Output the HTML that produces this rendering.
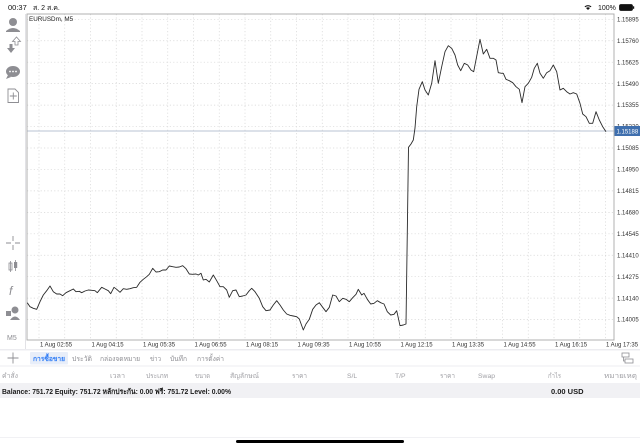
<!DOCTYPE html>
<html><head><meta charset="utf-8"><style>
html,body{margin:0;padding:0;background:#fff;width:640px;height:447px;overflow:hidden}
svg{display:block}
text{font-family:"Liberation Sans","DejaVu Sans",sans-serif}
</style></head><body>
<svg width="640" height="447" viewBox="0 0 640 447" xmlns="http://www.w3.org/2000/svg">
<rect width="640" height="447" fill="#fff"/>
<!-- status bar -->
<text x="8" y="10" font-size="7.5" fill="#111">00:37</text>
<text x="33" y="10" font-size="7" fill="#111">ส. 2 ส.ค.</text>
<g fill="#111">
<path d="M584.5,6.5 a5,5 0 0 1 7,0 l-0.8,0.8 a4,4 0 0 0 -5.4,0z M586,8 a3,3 0 0 1 4,0 l-2,2z"/>
</g>
<text x="598" y="10" font-size="7" fill="#111">100%</text>
<rect x="619.5" y="4.5" width="13" height="6" rx="1.5" fill="#111" stroke="#111" stroke-width="0.8"/>
<rect x="633" y="6.3" width="1.2" height="2.5" fill="#111"/>

<!-- left toolbar -->
<line x1="25.5" y1="14" x2="25.5" y2="349" stroke="#e2e2e6" stroke-width="1"/>
<g fill="#8e8e93" stroke="none">
<circle cx="13" cy="22" r="4"/>
<path d="M6,31 q7,-6 14,0 v1 h-14z"/>
<path d="M9.5,44 h3 v4 h2.5 l-4,5 l-4,-5 h2.5z"/>
<ellipse cx="13" cy="71.5" rx="7" ry="5.5"/>
<path d="M8,75 l-2,4 l5,-2z"/>
<circle cx="10" cy="71.5" r="0.9" fill="#fff"/><circle cx="13" cy="71.5" r="0.9" fill="#fff"/><circle cx="16" cy="71.5" r="0.9" fill="#fff"/>
</g>
<path d="M15,45 v-3.5 h-2.5 l4,-4.5 l4,4.5 h-2.5 v3.5z" fill="none" stroke="#8e8e93" stroke-width="0.8"/>
<path d="M8,89 h7 l3.5,3.5 v10 h-10.5z" fill="none" stroke="#8e8e93" stroke-width="0.9"/>
<path d="M13.3,92.5 v7 M9.8,96 h7" stroke="#8e8e93" stroke-width="0.9"/>
<path d="M13,236 v5 M13,245 v5 M6,243 h5 M15,243 h5" stroke="#8e8e93" stroke-width="0.9"/>
<g fill="#8e8e93">
<rect x="9" y="263" width="3" height="7" fill="none" stroke="#8e8e93" stroke-width="0.8"/>
<line x1="10.5" y1="261" x2="10.5" y2="272" stroke="#8e8e93" stroke-width="0.8"/>
<rect x="14" y="262" width="3.2" height="6"/>
<line x1="15.6" y1="260" x2="15.6" y2="271" stroke="#8e8e93" stroke-width="0.8"/>
</g>
<text x="9" y="295" font-size="12" font-style="italic" fill="#8e8e93" font-family="Liberation Serif,serif">f</text>
<g fill="#8e8e93">
<rect x="6" y="311" width="5" height="5"/>
<circle cx="15" cy="310" r="3.5"/>
<path d="M10,320 q5,-7 10,0z"/>
</g>
<text x="7" y="340" font-size="7" fill="#8e8e93">M5</text>

<!-- chart grid -->
<g stroke="#d6d6d6" stroke-width="0.7" stroke-dasharray="1.2,2.2">
<line x1="27" y1="19.3" x2="614" y2="19.3"/>
<line x1="27" y1="40.75" x2="614" y2="40.75"/>
<line x1="27" y1="62.2" x2="614" y2="62.2"/>
<line x1="27" y1="83.65" x2="614" y2="83.65"/>
<line x1="27" y1="105.1" x2="614" y2="105.1"/>
<line x1="27" y1="126.55" x2="614" y2="126.55"/>
<line x1="27" y1="148" x2="614" y2="148"/>
<line x1="27" y1="169.45" x2="614" y2="169.45"/>
<line x1="27" y1="190.9" x2="614" y2="190.9"/>
<line x1="27" y1="212.35" x2="614" y2="212.35"/>
<line x1="27" y1="233.8" x2="614" y2="233.8"/>
<line x1="27" y1="255.25" x2="614" y2="255.25"/>
<line x1="27" y1="276.7" x2="614" y2="276.7"/>
<line x1="27" y1="298.15" x2="614" y2="298.15"/>
<line x1="27" y1="319.6" x2="614" y2="319.6"/>
<line x1="39" y1="14" x2="39" y2="340"/>
<line x1="64.75" y1="14" x2="64.75" y2="340"/>
<line x1="90.5" y1="14" x2="90.5" y2="340"/>
<line x1="116.25" y1="14" x2="116.25" y2="340"/>
<line x1="142" y1="14" x2="142" y2="340"/>
<line x1="167.75" y1="14" x2="167.75" y2="340"/>
<line x1="193.5" y1="14" x2="193.5" y2="340"/>
<line x1="219.25" y1="14" x2="219.25" y2="340"/>
<line x1="245" y1="14" x2="245" y2="340"/>
<line x1="270.75" y1="14" x2="270.75" y2="340"/>
<line x1="296.5" y1="14" x2="296.5" y2="340"/>
<line x1="322.25" y1="14" x2="322.25" y2="340"/>
<line x1="348" y1="14" x2="348" y2="340"/>
<line x1="373.75" y1="14" x2="373.75" y2="340"/>
<line x1="399.5" y1="14" x2="399.5" y2="340"/>
<line x1="425.25" y1="14" x2="425.25" y2="340"/>
<line x1="451" y1="14" x2="451" y2="340"/>
<line x1="476.75" y1="14" x2="476.75" y2="340"/>
<line x1="502.5" y1="14" x2="502.5" y2="340"/>
<line x1="528.25" y1="14" x2="528.25" y2="340"/>
<line x1="554" y1="14" x2="554" y2="340"/>
<line x1="579.75" y1="14" x2="579.75" y2="340"/>
<line x1="605.5" y1="14" x2="605.5" y2="340"/>
</g>
<!-- current price line -->
<line x1="27" y1="131" x2="614" y2="131" stroke="#b9c3d3" stroke-width="1"/>
<!-- frame -->
<rect x="27" y="14" width="587" height="326" fill="none" stroke="#a8a8a8" stroke-width="0.9"/>
<text x="29" y="21" font-size="6.3" fill="#222">EURUSDm, M5</text>

<!-- price series -->
<polyline fill="none" stroke="#2a2a2a" stroke-width="0.9" stroke-linejoin="round" points="27.3,302.7 30,306.7 33.3,308.3 36.7,309.3 40,301.7 43.3,295 46.7,290.7 50,286 53.3,291.7 56.7,294 60,294 62.7,295.7 66,292.7 70,290.7 73.3,289 76,291.7 79.3,291.3 81.7,292.7 85,291 88.3,290 91.7,290.3 95,290.7 97.3,292.7 101.7,287.3 105,289 108.3,290.7 110.7,293.7 114,287.3 116.7,289.3 120,292.3 123.3,288.7 126.7,289.3 130,288.7 133.3,287.7 136.7,287.3 140,282.3 143.3,279.3 146.7,276.7 149.3,274.3 152.7,268.3 156,272 159.3,271.7 162.7,270 166,270 169.3,266 172.7,266.7 176,267.3 179.3,267 182.7,265.7 186,268.7 189.3,274 192.7,274.3 196,274 198.3,275 201,273.3 203.3,280 206,279.3 209.3,282 213.3,275 216.7,280.7 220,286.7 223.3,286.7 226.7,290 229.3,297.3 232.7,290.7 236,290 239.3,296.7 242.7,296 246,295 249.3,290.7 251.7,288.3 255,291.7 259.3,298.3 262.7,306.7 266,310.7 270,310 273.3,305 276.7,300.7 280,305 283.3,310 286.7,314 290,315.3 293.3,316 296.7,316.7 299.3,319 303.3,330 306,324 309.3,319.3 312.7,309.3 316,305 319.3,302.7 322.7,307.3 326,311.7 329.3,307.3 332.7,295 336,296 339.3,301.7 342.7,298.3 346,299.3 349.3,301.7 352.7,297.7 356,294.3 358.3,289.3 361.7,295 364,293.3 367.3,299.3 370.7,304 374,303.3 377.3,300.7 380.7,302.7 384,304 387.3,311.7 390.7,315 394,314.3 396.7,310.7 400,325.7 403.3,325 406,324 408.5,147.3 411,144 413.3,140 415,128 416.7,106.7 419,89.3 422.3,81.7 425,90 428.3,95 431.7,83.3 435,60.7 438.3,83.3 441.7,66.7 445,51.7 448.3,45.7 451.7,48.3 455,55 457.7,65 460.7,70.7 464.3,63.3 467.7,65 471,70 473.7,71.7 480,39.3 483.3,54 486.7,49.3 490,58.3 493.3,58.3 496,60 498.3,72.7 501.7,73.3 503.3,73.3 506,79.3 509.3,80.7 512.7,82.7 516,86.7 519.3,89.3 522,102.7 525,86.7 528.3,83.3 531.7,77.3 534.3,68.3 537.3,63.3 540,73.3 543.3,78.3 546.7,72.7 550,70.7 553.3,65 556.7,71.7 560,90 563.3,88.3 566.7,91.7 570,94 573.3,92.7 576.7,94 580,103.3 582.7,114 586,116.7 589.3,123.3 592.7,123.3 596,111.7 599.3,120 602.7,126.7 606,131.7"/>

<!-- y-axis labels -->
<g font-size="6" fill="#333">
<text x="617" y="21.4">1.15895</text>
<text x="617" y="42.85">1.15760</text>
<text x="617" y="64.3">1.15625</text>
<text x="617" y="85.75">1.15490</text>
<text x="617" y="107.2">1.15355</text>
<text x="617" y="128.65">1.15220</text>
<text x="617" y="150.1">1.15085</text>
<text x="617" y="171.55">1.14950</text>
<text x="617" y="193">1.14815</text>
<text x="617" y="214.45">1.14680</text>
<text x="617" y="235.9">1.14545</text>
<text x="617" y="257.35">1.14410</text>
<text x="617" y="278.8">1.14275</text>
<text x="617" y="300.25">1.14140</text>
<text x="617" y="321.7">1.14005</text>
</g>
<rect x="614.5" y="126" width="25.5" height="10" fill="#3f6fae"/>
<text x="616.5" y="133.3" font-size="6" fill="#fff">1.15188</text>

<!-- x-axis labels -->
<g font-size="6" fill="#333">
<text x="40" y="346.5">1 Aug 02:55</text>
<text x="91.5" y="346.5">1 Aug 04:15</text>
<text x="143" y="346.5">1 Aug 05:35</text>
<text x="194.5" y="346.5">1 Aug 06:55</text>
<text x="246" y="346.5">1 Aug 08:15</text>
<text x="297.5" y="346.5">1 Aug 09:35</text>
<text x="349" y="346.5">1 Aug 10:55</text>
<text x="400.5" y="346.5">1 Aug 12:15</text>
<text x="452" y="346.5">1 Aug 13:35</text>
<text x="503.5" y="346.5">1 Aug 14:55</text>
<text x="555" y="346.5">1 Aug 16:15</text>
<text x="606" y="346.5">1 Aug 17:35</text>
</g>

<!-- tab bar -->
<rect x="0" y="349" width="640" height="1.5" fill="#ececf0"/>
<rect x="0" y="365.5" width="640" height="1" fill="#ececf0"/>
<path d="M13,352.5 v11 M7.5,358 h11" stroke="#8e8e93" stroke-width="0.9"/>
<rect x="30" y="352" width="38" height="12.5" rx="1" fill="#e8eef9"/>
<g font-size="7">
<text x="33" y="361" fill="#2f7cf6" font-weight="bold" textLength="32" lengthAdjust="spacingAndGlyphs">การซื้อขาย</text>
<text x="72" y="361" fill="#8e8e93" textLength="20" lengthAdjust="spacingAndGlyphs">ประวัติ</text>
<text x="100" y="361" fill="#8e8e93" textLength="40" lengthAdjust="spacingAndGlyphs">กล่องจดหมาย</text>
<text x="150" y="361" fill="#8e8e93" textLength="11" lengthAdjust="spacingAndGlyphs">ข่าว</text>
<text x="170" y="361" fill="#8e8e93" textLength="17" lengthAdjust="spacingAndGlyphs">บันทึก</text>
<text x="197" y="361" fill="#8e8e93" textLength="27" lengthAdjust="spacingAndGlyphs">การตั้งค่า</text>
</g>
<g fill="none" stroke="#8e8e93" stroke-width="0.8">
<rect x="622" y="353" width="7" height="4"/>
<rect x="625" y="359" width="8" height="4"/>
<path d="M623.5,357 v4 h1.5"/>
</g>

<!-- column headers -->
<g font-size="6.8" fill="#a0a0a5">
<text x="2" y="378" textLength="16" lengthAdjust="spacingAndGlyphs">คำสั่ง</text>
<text x="110" y="378" textLength="15" lengthAdjust="spacingAndGlyphs">เวลา</text>
<text x="146" y="378" textLength="22" lengthAdjust="spacingAndGlyphs">ประเภท</text>
<text x="195" y="378" textLength="15" lengthAdjust="spacingAndGlyphs">ขนาด</text>
<text x="230" y="378" textLength="29" lengthAdjust="spacingAndGlyphs">สัญลักษณ์</text>
<text x="292" y="378" textLength="15" lengthAdjust="spacingAndGlyphs">ราคา</text>
<text x="347" y="378">S/L</text>
<text x="395" y="378">T/P</text>
<text x="440" y="378" textLength="15" lengthAdjust="spacingAndGlyphs">ราคา</text>
<text x="478" y="378">Swap</text>
<text x="548" y="378" textLength="13" lengthAdjust="spacingAndGlyphs">กำไร</text>
<text x="604" y="378" textLength="33" lengthAdjust="spacingAndGlyphs">หมายเหตุ</text>
</g>

<!-- balance row -->
<rect x="0" y="383" width="640" height="15" fill="#f1f1f4"/>
<text x="2" y="394" font-size="7.5" font-weight="bold" fill="#1a1a1a" textLength="229" lengthAdjust="spacingAndGlyphs">Balance: 751.72 Equity: 751.72 หลักประกัน: 0.00 ฟรี: 751.72 Level: 0.00%</text>
<text x="551" y="394" font-size="7.5" font-weight="bold" fill="#1a1a1a">0.00  USD</text>

<!-- bottom -->
<line x1="0" y1="437.5" x2="640" y2="437.5" stroke="#ececf0" stroke-width="0.8"/>
<rect x="236" y="440" width="168" height="3" rx="1.5" fill="#000"/>
</svg>
</body></html>
